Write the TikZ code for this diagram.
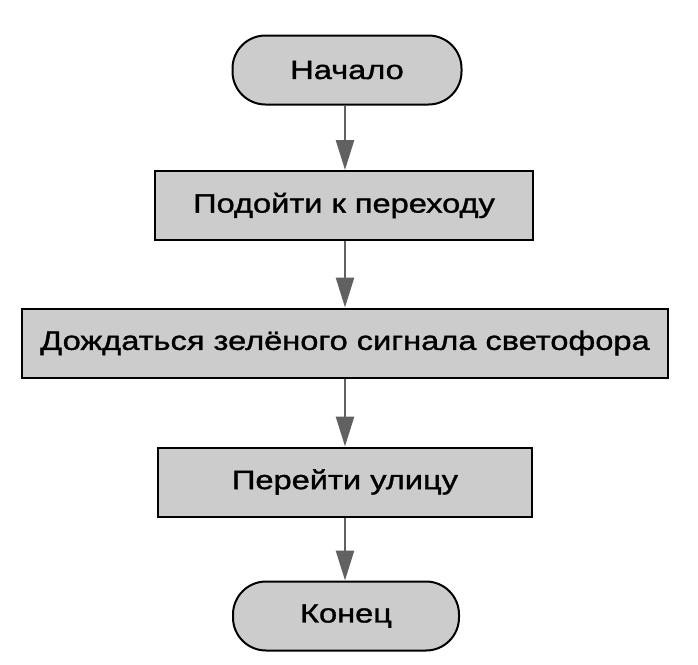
\documentclass[tikz,border=0pt]{standalone}
\usepackage{fontspec}
\setmainfont{Liberation Sans}[FakeStretch=1.23,FakeBold=1.3,BoldFont=Liberation Sans]
\usetikzlibrary{arrows.meta}
\begin{document}
\begin{tikzpicture}[x=1pt,y=-1pt,
  box/.style={draw=black, line width=2pt, fill=black!20, minimum height=69pt, inner sep=0pt,
    font=\fontsize{26.5}{31}\selectfont\bfseries},
  term/.style={box, rounded corners=33pt},
  conn/.style={draw=black!62, line width=2.6pt, -{Triangle[length=30pt,width=18pt]}}]
\useasboundingbox (0,0) rectangle (698,664);
\node[term, minimum width=229pt] (start) at (347,70) {Начало};
\node[box, minimum width=378pt] (b1) at (344,205.5) {Подойти к переходу};
\node[box, minimum width=646pt] (b2) at (345,343) {Дождаться зелёного сигнала светофора};
\node[box, minimum width=374pt] (b3) at (345,482) {Перейти улицу};
\node[term, minimum width=226pt] (end) at (346,616) {Конец};
\draw[conn] (start.south -| b2.center) -- (b1.north -| b2.center);
\draw[conn] (b1.south -| b2.center) -- (b2.north);
\draw[conn] (b2.south) -- (b3.north);
\draw[conn] (b3.south -| b2.center) -- (end.north -| b2.center);
\end{tikzpicture}
\end{document}
